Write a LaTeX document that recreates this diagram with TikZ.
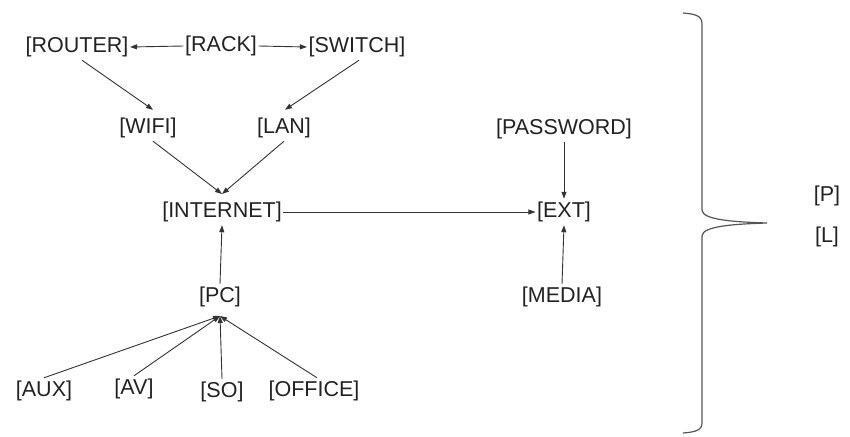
\documentclass[tikz,border=0pt]{standalone}
\usepackage{fontspec}
\setmainfont{Liberation Sans}
\usetikzlibrary{arrows.meta}
\definecolor{ink}{HTML}{222222}
\definecolor{lin}{HTML}{333333}
\definecolor{brc}{HTML}{555555}
\tikzset{
  lbl/.style={font=\fontsize{21.5}{25}\selectfont, text=ink, inner xsep=1.5pt, inner ysep=3pt},
  arr/.style={draw=lin, line width=0.9pt, -{Triangle[length=7pt,width=5pt]}},
  bracepath/.style={draw=brc, line width=1.2pt}
}
\begin{document}
\begin{tikzpicture}[x=1pt,y=-1pt]
\useasboundingbox[fill=white] (0,0) rectangle (850,436);
% nodes
\node[lbl] (router) at (77,47) {[ROUTER]};
\node[lbl] (rack) at (221,46) {[RACK]};
\node[lbl] (switch) at (357,47) {[SWITCH]};
\node[lbl] (wifi) at (148,128) {[WIFI]};
\node[lbl] (lan) at (284,128) {[LAN]};
\node[lbl] (internet) at (222,212) {[INTERNET]};
\node[lbl] (password) at (564,129) {[PASSWORD]};
\node[lbl] (ext) at (564,212) {[EXT]};
\node[lbl] (pc) at (220,297) {[PC]};
\node[lbl] (media) at (562,297) {[MEDIA]};
\node[lbl] (aux) at (44,391) {[AUX]};
\node[lbl] (av) at (134,389) {[AV]};
\node[lbl] (so) at (222,392) {[SO]};
\node[lbl] (office) at (314,391) {[OFFICE]};
\node[lbl] (p) at (827,196) {[P]};
\node[lbl] (l) at (827,237) {[L]};
\coordinate (pcin) at (220,316);
\coordinate (inetin) at (222,194);
% connectors
\draw[arr] (rack.west) -- (router.east);
\draw[arr] (rack.east) -- (switch.west);
\draw[arr] ([xshift=5pt]router.south) -- ([xshift=5pt,yshift=5pt]wifi.north);
\draw[arr] ([xshift=2pt]switch.south) -- ([xshift=1pt,yshift=5pt]lan.north);
\draw[arr] ([xshift=5pt]wifi.south) -- (inetin);
\draw[arr] (lan.south) -- (inetin);
\draw[arr] (internet.east) -- (ext.west);
\draw[arr] (password.south) -- (ext.north);
\draw[arr] (media.north) -- (ext.south);
\draw[arr] (pc.north) -- (internet.south);
\draw[arr] (aux.north) -- (pcin);
\draw[arr] (av.north) -- (pcin);
\draw[arr] (so.north) -- (pcin);
\draw[arr] ([xshift=3pt]office.north) -- (pcin);
% brace
\draw[bracepath] (683,13) .. controls (696,14) and (702,16) .. (702,24)
  -- (702,210) .. controls (702,220) and (735,222) .. (767,223)
  .. controls (735,224) and (702,226) .. (702,236)
  -- (702,423) .. controls (702,430) and (696,432) .. (683,433);
\end{tikzpicture}
\end{document}
